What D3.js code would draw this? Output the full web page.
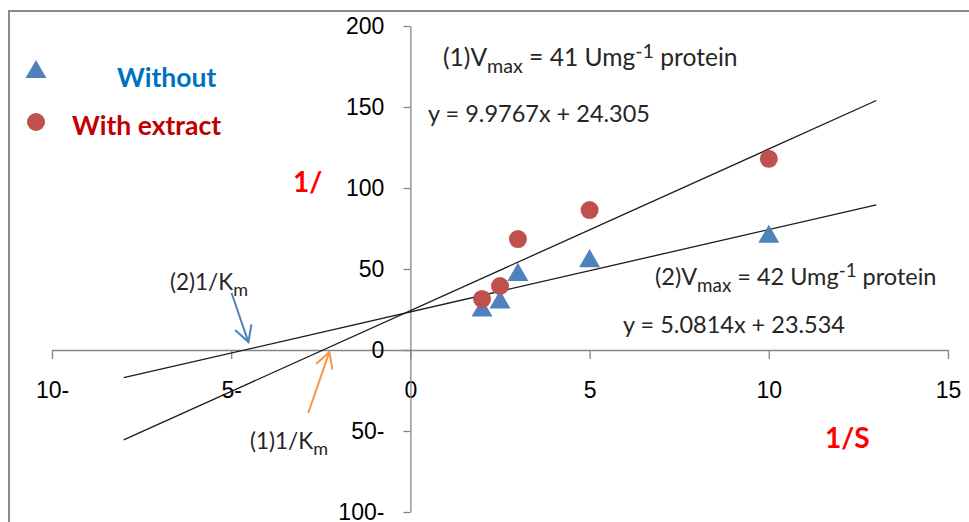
<!DOCTYPE html>
<html>
<head>
<meta charset="utf-8">
<script src="https://cdn.jsdelivr.net/npm/d3@7"></script>
<style>
  html, body { margin: 0; padding: 0; background: #fff; }
  svg { display: block; }
  .ann { font-family: Lato, "Open Sans", sans-serif; fill: #262626; }
</style>
</head>
<body>
<svg id="chart" width="969" height="522"></svg>
<script>
// Lineweaver-Burk data: 1/S against 1/v
const substrateInv = [2, 2.5, 3, 5, 10];
const withoutExtract = [25, 30, 47, 55.5, 70.5];
const withExtract = [31.5, 39.5, 68.5, 86.4, 118];

// Linear trendlines (slope, intercept) and their drawn range
const fitWith = { slope: 9.9767, intercept: 24.305 };
const fitWithout = { slope: 5.0814, intercept: 23.534 };
const fitRange = [-8, 13];

const xTicks = [-10, -5, 0, 5, 10, 15];
const yTicks = [-100, -50, 0, 50, 100, 150, 200];

const svg = d3.select("#chart");

// Outer frame
svg.append("path")
  .attr("d", "M9,522 V11 H969")
  .attr("fill", "none")
  .attr("stroke", "#8c8c8c")
  .attr("stroke-width", 2);

const x = d3.scaleLinear().domain([-10, 15]).range([52, 948]);
const y = d3.scaleLinear().domain([-100, 200]).range([512, 26]);

// Negative numbers carry the minus sign after the digits
const fmt = v => v < 0 ? Math.abs(v) + "-" : String(v);

const xAxis = svg.append("g")
  .attr("transform", `translate(0,${y(0)})`)
  .call(d3.axisBottom(x).tickValues(xTicks).tickFormat(fmt)
    .tickSize(9).tickSizeOuter(0).tickPadding(23));
const yAxis = svg.append("g")
  .attr("transform", `translate(${x(0)},0)`)
  .call(d3.axisLeft(y).tickValues(yTicks).tickFormat(fmt)
    .tickSize(7).tickSizeOuter(0).tickPadding(19));
[xAxis, yAxis].forEach(g => {
  g.attr("font-family", "'Liberation Sans', Arial, sans-serif").attr("font-size", 23);
  g.selectAll(".tick text").attr("fill", "#000");
  g.select(".domain").attr("stroke", "#868686").attr("stroke-width", 1.3);
  g.selectAll(".tick line").attr("stroke", "#868686").attr("stroke-width", 1.3);
});

// Trendlines
[fitWith, fitWithout].forEach(f => {
  svg.append("line")
    .attr("x1", x(fitRange[0])).attr("y1", y(f.slope * fitRange[0] + f.intercept))
    .attr("x2", x(fitRange[1])).attr("y2", y(f.slope * fitRange[1] + f.intercept))
    .attr("stroke", "#1a1a1a").attr("stroke-width", 1.3);
});

// Markers
const tri = d3.symbol().type(d3.symbolTriangle).size(190);
svg.append("g").selectAll("path")
  .data(substrateInv.map((s, i) => [s, withoutExtract[i]]))
  .join("path")
  .attr("d", tri)
  .attr("transform", d => `translate(${x(d[0])},${y(d[1]) + 1})`)
  .attr("fill", "#4F81BD");
svg.append("g").selectAll("circle")
  .data(substrateInv.map((s, i) => [s, withExtract[i]]))
  .join("circle")
  .attr("cx", d => x(d[0])).attr("cy", d => y(d[1]))
  .attr("r", 9)
  .attr("fill", "#C0504D");

// Legend
svg.append("path").attr("d", tri).attr("transform", "translate(36,72)").attr("fill", "#4F81BD");
svg.append("circle").attr("cx", 36).attr("cy", 122).attr("r", 9).attr("fill", "#C0504D");
svg.append("text").attr("class", "ann").attr("x", 117).attr("y", 87)
  .style("font-size", "26.5px").style("font-weight", "bold").style("fill", "#0070C0").text("Without");
svg.append("text").attr("class", "ann").attr("x", 72).attr("y", 135)
  .style("font-size", "26.5px").style("font-weight", "bold").style("fill", "#C00000").text("With extract");

// Axis titles
svg.append("text").attr("class", "ann").attr("x", 293).attr("y", 192)
  .style("font-size", "28px").style("font-weight", "bold").style("fill", "#FF0000").text("1/");
svg.append("text").attr("class", "ann").attr("x", 825).attr("y", 448)
  .style("font-size", "28px").style("font-weight", "bold").style("fill", "#FF0000").text("1/S");

// Annotation helper: parts are [text, "sub" | "sup" | null]
function rich(px, py, size, parts) {
  const t = svg.append("text").attr("class", "ann").attr("x", px).attr("y", py)
    .style("font-size", size + "px");
  let shift = 0;
  parts.forEach(([s, kind]) => {
    const target = kind === "sub" ? size * 0.28 : kind === "sup" ? -size * 0.33 : 0;
    t.append("tspan")
      .attr("dy", target - shift)
      .style("font-size", kind ? (size * 0.8) + "px" : null)
      .text(s);
    shift = target;
  });
  return t;
}

rich(443, 66, 24.6, [["(1)V", null], ["max", "sub"], [" = 41 Umg", null], ["-1", "sup"], [" protein", null]]);
rich(428, 122, 23.5, [[`y = ${fitWith.slope}x + ${fitWith.intercept}`, null]]);
rich(655, 285, 23.5, [["(2)V", null], ["max", "sub"], [" = 42 Umg", null], ["-1", "sup"], [" protein", null]]);
rich(623, 333, 23.5, [[`y = ${fitWithout.slope}x + ${fitWithout.intercept}`, null]]);
rich(170, 290, 22.5, [["(2)1/K", null], ["m", "sub"]]);
rich(250, 449, 22.5, [["(1)1/K", null], ["m", "sub"]]);

// Arrows pointing to the 1/Km intercepts
function arrow(x0, y0, x1, y1, color) {
  const ax = x(x0), ay = y(y0), bx = x(x1), by = y(y1);
  const ang = Math.atan2(by - ay, bx - ax), L = 18, w = 0.5;
  svg.append("line").attr("x1", ax).attr("y1", ay).attr("x2", bx).attr("y2", by)
    .attr("stroke", color).attr("stroke-width", 2);
  svg.append("path")
    .attr("d", `M${bx - L * Math.cos(ang - w)},${by - L * Math.sin(ang - w)} L${bx},${by} L${bx - L * Math.cos(ang + w)},${by - L * Math.sin(ang + w)}`)
    .attr("fill", "none").attr("stroke", color).attr("stroke-width", 2);
}
arrow(-4.99, 35.2, -4.52, 4.9, "#4F81BD");
arrow(-2.85, -38.9, -2.26, -1.2, "#F79646");
</script>
</body>
</html>
